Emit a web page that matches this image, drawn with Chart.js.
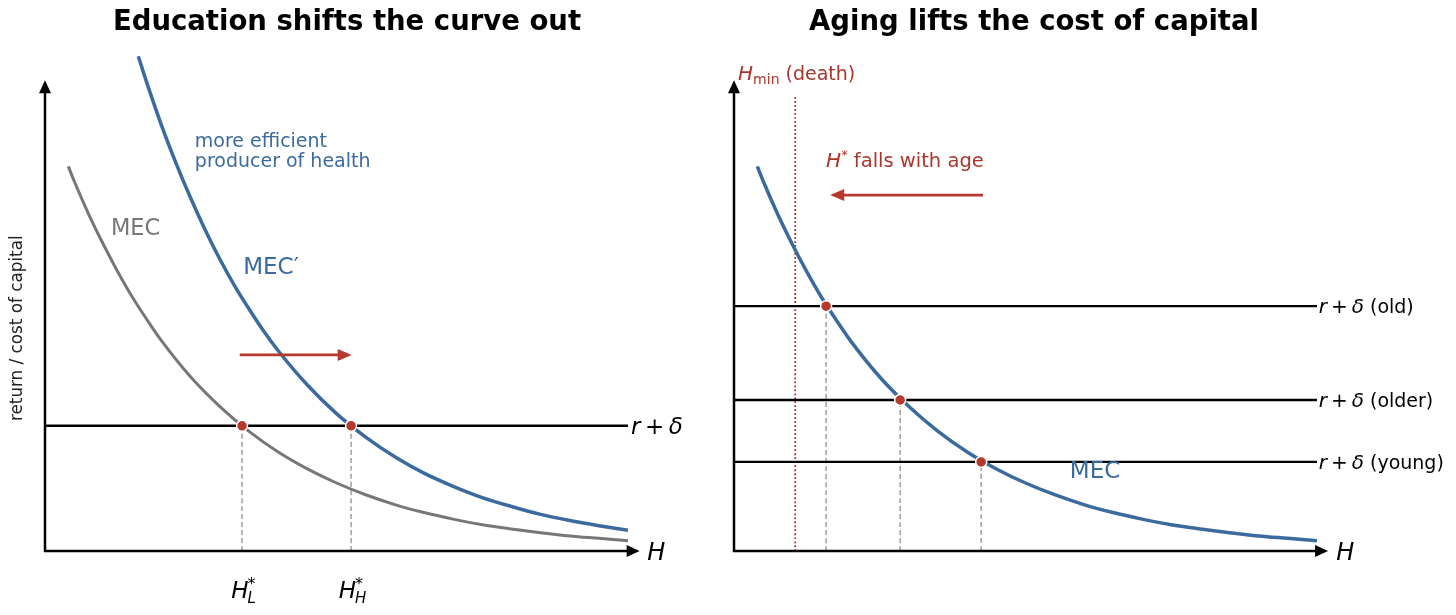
<!DOCTYPE html>
<html>
<head>
<meta charset="utf-8">
<script src="https://cdn.jsdelivr.net/npm/chart.js@4.4.0/dist/chart.umd.min.js"></script>
<style>
  body { margin: 0; background: #fff; }
  #wrap { position: relative; width: 1456px; height: 615px; }
  .panel { position: absolute; top: 0; height: 615px; }
</style>
</head>
<body>
<div id="wrap">
  <div class="panel" style="left:0;width:700px"><canvas id="eduChart"></canvas></div>
  <div class="panel" style="left:700px;width:756px"><canvas id="ageChart"></canvas></div>
</div>
<script>
// MEC curves (H on x, return on y)
const mecH = [0.4, 0.5, 0.75, 1, 1.25, 1.5, 1.75, 2, 2.5, 3, 3.5, 4, 4.5, 5, 5.5, 6, 6.5, 7, 7.5, 8, 8.5, 9, 9.5, 10];
const mecBase = [8.20, 7.89, 7.18, 6.54, 5.95, 5.41, 4.93, 4.48, 3.71, 3.08, 2.55, 2.11, 1.75, 1.45, 1.20, 0.99, 0.82, 0.68, 0.56, 0.47, 0.39, 0.32, 0.27, 0.22];
const mecPrimeH = [1.6, 1.75, 2, 2.25, 2.5, 2.75, 3, 3.25, 3.5, 3.75, 4, 4.5, 5, 5.5, 6, 6.5, 7, 7.5, 8, 8.5, 9, 9.5, 10];
const mecPrime = [10.55, 9.97, 9.07, 8.26, 7.52, 6.84, 6.22, 5.66, 5.16, 4.69, 4.27, 3.54, 2.93, 2.43, 2.01, 1.66, 1.38, 1.14, 0.95, 0.78, 0.65, 0.54, 0.44];

// left panel: one cost of capital, two optimal stocks
const rateLeft = 2.67;
const eqLeft = [3.38, 5.25];
const eqLeftSub = ['L', 'H'];

// right panel: cost of capital rises with age
const ageLevels = [5.22, 3.22, 1.90];
const ageNames = ['old', 'older', 'young'];
const ageEq = [1.58, 2.85, 4.24];
const hMin = 1.05;

const X_MAX = 10, Y_MAX = 10.64;

const BLUE = '#3a6a9e', GRAY = '#777777', RED = '#b5392d', RED_TXT = '#a9362b';
const FAMILY = '"DejaVu Sans", sans-serif';

const pts = (xs, ys) => xs.map((x, i) => ({ x: x, y: ys[i] }));

function font(size, style) {
    return (style || '') + ' ' + size + 'px ' + FAMILY;
}

// draws a run of text pieces: [text, size, style, dy, color]
function drawRun(ctx, x, y, parts, align, color) {
    ctx.save();
    ctx.textBaseline = 'alphabetic';
    ctx.textAlign = 'left';
    let total = 0;
    parts.forEach(p => { ctx.font = font(p[1], p[2]); total += ctx.measureText(p[0]).width; });
    let cx = align === 'center' ? x - total / 2 : x;
    parts.forEach(p => {
        ctx.font = font(p[1], p[2]);
        ctx.fillStyle = p[4] || color;
        ctx.fillText(p[0], cx, y + (p[3] || 0));
        cx += ctx.measureText(p[0]).width;
    });
    ctx.restore();
}

function arrowHead(ctx, x, y, angle, len, width) {
    ctx.save();
    ctx.translate(x, y);
    ctx.rotate(angle);
    ctx.beginPath();
    ctx.moveTo(0, 0);
    ctx.lineTo(-len, -width / 2);
    ctx.lineTo(-len, width / 2);
    ctx.closePath();
    ctx.fill();
    ctx.restore();
}

function drawArrow(ctx, x1, y1, x2, y2, color) {
    const a = Math.atan2(y2 - y1, x2 - x1);
    ctx.save();
    ctx.strokeStyle = color;
    ctx.fillStyle = color;
    ctx.lineWidth = 2.8;
    ctx.beginPath();
    ctx.moveTo(x1, y1);
    ctx.lineTo(x2 - 10 * Math.cos(a), y2 - 10 * Math.sin(a));
    ctx.stroke();
    arrowHead(ctx, x2, y2, a, 14, 12);
    ctx.restore();
}

function drawAxes(chart, xTip, yTip) {
    const { ctx, scales: { x, y } } = chart;
    const ox = x.getPixelForValue(0), oy = y.getPixelForValue(0);
    const tx = x.getPixelForValue(xTip), ty = y.getPixelForValue(yTip);
    ctx.save();
    ctx.strokeStyle = '#000';
    ctx.fillStyle = '#000';
    ctx.lineWidth = 2.5;
    ctx.beginPath();
    ctx.moveTo(ox, oy); ctx.lineTo(tx - 8, oy);
    ctx.moveTo(ox, oy + 1.2); ctx.lineTo(ox, ty + 8);
    ctx.stroke();
    arrowHead(ctx, tx, oy, 0, 13, 12);
    arrowHead(ctx, ox, ty, -Math.PI / 2, 13, 12);
    ctx.restore();
}

function drawTitle(ctx, text, cx) {
    ctx.save();
    ctx.font = font(27.5, 'bold');
    ctx.fillStyle = '#000';
    ctx.textAlign = 'center';
    ctx.textBaseline = 'middle';
    ctx.fillText(text, cx, 23);
    ctx.restore();
}

function drawText(ctx, text, x, y, size, color, align) {
    ctx.save();
    ctx.font = font(size);
    ctx.fillStyle = color;
    ctx.textAlign = align || 'left';
    ctx.textBaseline = 'middle';
    ctx.fillText(text, x, y);
    ctx.restore();
}

function lineSet(data, color, width, dash, cap) {
    return {
        type: 'line',
        data: data,
        borderColor: color,
        borderWidth: width,
        borderDash: dash || [],
        pointRadius: 0,
        fill: false,
        cubicInterpolationMode: 'monotone',
        borderCapStyle: cap || 'butt'
    };
}

function dotSet(data) {
    return {
        type: 'scatter',
        data: data,
        pointRadius: 5.5,
        pointBackgroundColor: RED,
        pointBorderColor: '#ffffff',
        pointBorderWidth: 1.5,
        showLine: false
    };
}

function baseOptions(padding) {
    return {
        responsive: true,
        maintainAspectRatio: false,
        animation: false,
        events: [],
        layout: { padding: padding },
        scales: {
            x: { type: 'linear', min: 0, max: X_MAX, display: false },
            y: { type: 'linear', min: 0, max: Y_MAX, display: false }
        },
        plugins: {
            legend: { display: false },
            tooltip: { enabled: false },
            title: { display: false }
        }
    };
}

const THIN = '\u2009';

// Education panel
new Chart(document.getElementById('eduChart'), {
    type: 'line',
    data: {
        datasets: [
            dotSet(eqLeft.map(h => ({ x: h, y: rateLeft }))),
            lineSet([{ x: 0, y: rateLeft }, { x: X_MAX, y: rateLeft }], '#000', 2.5),
            lineSet(pts(mecPrimeH, mecPrime), BLUE, 3.5),
            lineSet(pts(mecH, mecBase), GRAY, 3)
        ].concat(eqLeft.map(h => lineSet([{ x: h, y: 0 }, { x: h, y: rateLeft }], '#999', 1.4, [5, 3])))
    },
    options: baseOptions({ left: 45, right: 72, top: 52, bottom: 64 }),
    plugins: [{
        id: 'eduDecor',
        afterDatasetsDraw(chart) {
            const { ctx, scales: { x, y } } = chart;
            drawAxes(chart, 10.2, 10.04);
            drawTitle(ctx, 'Education shifts the curve out', 347);

            drawText(ctx, 'more efficient', x.getPixelForValue(2.57), y.getPixelForValue(8.72), 19, BLUE);
            drawText(ctx, 'producer of health', x.getPixelForValue(2.57), y.getPixelForValue(8.29), 19, BLUE);
            drawText(ctx, 'MEC', x.getPixelForValue(1.13), y.getPixelForValue(6.87), 22.5, GRAY);
            drawText(ctx, 'MEC\u2032', x.getPixelForValue(3.4), y.getPixelForValue(6.03), 23, BLUE);

            drawArrow(ctx, x.getPixelForValue(3.34), y.getPixelForValue(4.18),
                x.getPixelForValue(5.26), y.getPixelForValue(4.18), RED);

            const ry = y.getPixelForValue(rateLeft) + 8;
            drawRun(ctx, x.getPixelForValue(10.05), ry,
                [['r', 23, 'italic'], [THIN + '+' + THIN, 23], ['\u03b4', 23, 'italic']], 'left', '#000');
            drawRun(ctx, x.getPixelForValue(10.33), y.getPixelForValue(0) + 9,
                [['H', 24, 'italic']], 'left', '#000');

            eqLeft.forEach((h, i) => {
                const cx = x.getPixelForValue(h) + 2;
                const by = y.getPixelForValue(0) + 47;
                ctx.save();
                ctx.fillStyle = '#000';
                ctx.textBaseline = 'alphabetic';
                ctx.font = font(23, 'italic');
                const wH = ctx.measureText('H').width;
                ctx.font = font(15, 'italic');
                const wS = ctx.measureText(eqLeftSub[i]).width;
                const left = cx - (wH + wS) / 2;
                ctx.font = font(23, 'italic');
                ctx.fillText('H', left, by);
                ctx.font = font(15, 'italic');
                ctx.fillText(eqLeftSub[i], left + wH - 1, by + 5);
                ctx.font = font(16);
                ctx.fillText('*', left + wH - 1, by - 9);
                ctx.restore();
            });

            ctx.save();
            ctx.translate(18, y.getPixelForValue(4.75));
            ctx.rotate(-Math.PI / 2);
            ctx.font = font(16.8);
            ctx.fillStyle = '#222';
            ctx.textAlign = 'center';
            ctx.textBaseline = 'middle';
            ctx.fillText('return / cost of capital', 0, 0);
            ctx.restore();
        }
    }]
});

// Aging panel
new Chart(document.getElementById('ageChart'), {
    type: 'line',
    data: {
        datasets: [
            dotSet(ageEq.map((h, i) => ({ x: h, y: ageLevels[i] }))),
            lineSet(pts(mecH, mecBase), BLUE, 3.5)
        ].concat(ageLevels.map(r => lineSet([{ x: 0, y: r }, { x: X_MAX, y: r }], '#000', 2.3)))
         .concat(ageEq.map((h, i) => lineSet([{ x: h, y: 0 }, { x: h, y: ageLevels[i] }], '#999', 1.4, [5, 3])))
         .concat([lineSet([{ x: hMin, y: 0 }, { x: hMin, y: 9.68 }], '#a8302a', 1.8, [1.8, 2.2])])
    },
    options: baseOptions({ left: 34, right: 139, top: 52, bottom: 64 }),
    plugins: [{
        id: 'ageDecor',
        afterDatasetsDraw(chart) {
            const { ctx, scales: { x, y } } = chart;
            drawAxes(chart, 10.19, 10.04);
            drawTitle(ctx, 'Aging lifts the cost of capital', 334);

            drawRun(ctx, x.getPixelForValue(0.07), y.getPixelForValue(10.19) + 7,
                [['H', 20, 'italic'], ['min', 14, '', 4], [' (death)', 19]], 'left', RED_TXT);
            drawRun(ctx, x.getPixelForValue(1.58), y.getPixelForValue(8.34) + 7,
                [['H', 20, 'italic'], ['*', 13, '', -8], [' falls with age', 19.5]], 'left', RED_TXT);
            drawArrow(ctx, x.getPixelForValue(4.27), y.getPixelForValue(7.59),
                x.getPixelForValue(1.65), y.getPixelForValue(7.59), RED);

            drawText(ctx, 'MEC', x.getPixelForValue(5.76), y.getPixelForValue(1.68), 23, BLUE);

            ageLevels.forEach((r, i) => {
                drawRun(ctx, x.getPixelForValue(10.03), y.getPixelForValue(r) + 7,
                    [['r', 20, 'italic'], [THIN + '+' + THIN, 20], ['\u03b4', 20, 'italic'], [' (' + ageNames[i] + ')', 19]], 'left', '#000');
            });
            drawRun(ctx, x.getPixelForValue(10.33), y.getPixelForValue(0) + 9,
                [['H', 24, 'italic']], 'left', '#000');
        }
    }]
});
</script>
</body>
</html>
